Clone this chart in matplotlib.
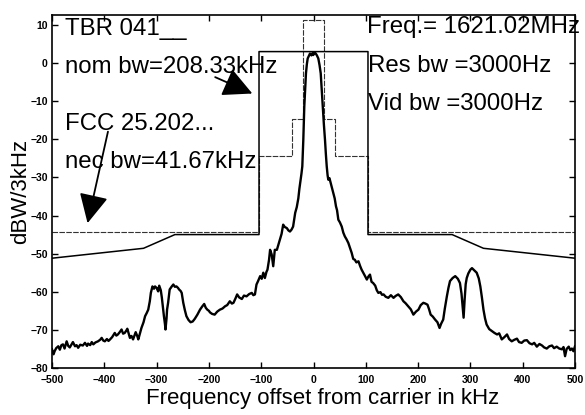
import matplotlib
matplotlib.use("Agg")
import matplotlib.pyplot as plt

plt.rcParams['font.family'] = ['Liberation Sans', 'DejaVu Sans']

# ---- data ----
freq_khz = [-500,-497,-495,-492,-488,-485,-482,-479,-476,-472,-469,-466,-463,-460,-456,-453,-450,-446,-441,-437,-433,-431,-427,-424,-421,-417,-412,-408,-405,-402,-399,-395,-392,-389,-385,-380,-377,-374,-370,-367,-364,-361,-358,-356,-353,-351,-348,-345,-342,-340,-337,-335,-332,-329,-325,-322,-319,-316,-313,-311,-308,-305,-303,-300,-297,-295,-292,-290,-288,-286,-284,-283,-281,-280,-278,-275,-271,-268,-265,-262,-259,-257,-254,-252,-249,-246,-243,-239,-235,-231,-227,-222,-217,-213,-209,-206,-203,-200,-198,-194,-189,-184,-179,-174,-169,-165,-160,-156,-153,-149,-146,-142,-137,-133,-128,-123,-118,-115,-112,-109,-106,-102,-99,-96,-93,-90,-88,-85,-83,-80,-77,-74,-70,-67,-64,-61,-58,-55,-51,-48,-45,-42,-39,-35,-32,-29,-27,-24.5,-23,-21.4,-20.5,-19.5,-18.5,-17.6,-16,-14.4,-12.7,-11.1,-9,-6.7,-4,-2,-0.4,2,4.2,6.5,9.2,11.5,13.8,15.7,17.6,19.8,22,23.7,25.3,27,28.3,30.5,33,35.5,38,40.5,43,45,47.5,50.5,54,57,60,63,66.6,70,73,76,79,82,86,89,92,95,98.6,102,105,108,111,114,118,121,124,128,131,134,138,143,148,153,157,162,167,172,176,181,186,191,196,200.6,205,210,214,218,221,224,228,232.5,237,241,244,248,251,255,258,261,266,271,276,280,283,285,287,289,291,293,296,300,303,306,309,312,316,319,322,325,328,331,336,341,346,351,355,360,365,370,374,379,384,389,393,398,403,408,413,418,422,427,432,437,441,446,451,456,460,465,470,475,478,481,484,488,491,494,497,500]
level_dbw = [-75.1,-76.4,-75.6,-74.8,-74.3,-75.2,-74.0,-73.8,-74.9,-73.0,-74.2,-74.6,-73.9,-73.2,-74.3,-74.0,-74.7,-73.9,-74.1,-73.4,-74.2,-73.6,-74.0,-73.2,-73.8,-73.3,-73.0,-72.6,-72.1,-72.8,-73.0,-72.4,-72.9,-72.5,-71.9,-70.8,-71.5,-71.2,-70.5,-69.9,-71.0,-70.8,-70.2,-69.7,-71.2,-72.1,-71.6,-72.5,-71.4,-70.6,-71.6,-72.5,-71.0,-69.5,-68.0,-66.4,-65.6,-64.7,-62.5,-60.3,-58.6,-59.2,-58.6,-59.0,-59.9,-58.4,-59.6,-61.5,-64.0,-66.4,-68.5,-69.9,-67.0,-64.7,-62.9,-59.4,-58.6,-58.1,-58.7,-58.6,-59.0,-59.4,-59.8,-60.3,-62.9,-64.8,-66.4,-67.4,-68.0,-67.8,-67.1,-66.0,-64.7,-63.9,-63.2,-64.2,-64.7,-65.0,-65.4,-65.8,-66.0,-65.2,-64.7,-64.4,-63.8,-63.5,-62.5,-63.1,-62.9,-61.7,-60.7,-61.5,-61.9,-61.0,-61.2,-60.6,-60.3,-60.9,-60.7,-58.1,-57.2,-55.9,-56.6,-55.0,-56.4,-54.8,-54.2,-51.6,-49.0,-50.2,-53.3,-49.0,-49.0,-47.6,-46.3,-44.8,-42.4,-43.0,-43.3,-43.9,-44.2,-43.7,-42.9,-39.3,-37.8,-35.5,-33.0,-30.6,-29.0,-27.1,-24.0,-20.2,-15.5,-11.4,-7.0,-2.7,-0.3,1.2,1.8,2.5,2.0,2.6,2.1,2.8,2.5,2.0,1.2,-0.5,-2.7,-7.0,-11.4,-16.0,-20.2,-24.0,-27.1,-29.5,-30.6,-30.2,-31.5,-32.8,-34.1,-35.5,-37.6,-38.6,-41.1,-41.8,-42.9,-44.5,-45.5,-46.2,-47.2,-48.6,-49.8,-51.4,-51.6,-52.3,-52.0,-53.2,-54.2,-55.0,-55.9,-56.8,-56.0,-55.5,-57.4,-57.7,-58.4,-59.6,-60.3,-60.1,-60.8,-60.7,-61.3,-61.6,-60.9,-61.6,-61.1,-60.7,-61.4,-62.5,-63.0,-63.8,-64.6,-66.0,-65.2,-64.7,-63.5,-62.9,-63.1,-63.4,-64.6,-66.0,-66.5,-67.3,-68.0,-69.5,-68.4,-67.3,-64.5,-61.2,-59.0,-57.2,-56.4,-55.9,-56.6,-57.7,-60.5,-63.5,-66.8,-62.0,-58.0,-56.4,-55.2,-54.2,-53.8,-54.2,-54.6,-55.0,-56.5,-58.6,-61.5,-64.7,-67.0,-68.6,-69.8,-70.3,-70.8,-71.2,-70.9,-72.5,-71.9,-71.2,-72.4,-73.0,-72.6,-72.3,-73.2,-73.4,-72.8,-72.7,-73.5,-73.8,-73.4,-74.4,-73.7,-74.1,-74.6,-74.9,-74.3,-74.1,-74.8,-74.4,-74.9,-75.1,-74.5,-76.9,-75.0,-74.4,-75.3,-74.9,-75.6,-74.3]

# nominal-bandwidth (outer) mask
nom_mask_f = [-500, -325, -265, -104.17, -104.17, 104.17, 104.17, 265, 325, 500]
nom_mask_db = [-51.2, -48.6, -45.0, -45.0, 3.0, 3.0, -45.0, -45.0, -48.6, -51.2]

# FCC 25.202 (necessary-bandwidth) mask
fcc_mask_f = [-500, -104.17, -104.17, -41.67, -41.67, -20.83, -20.83, 20.83, 20.83, 41.67, 41.67, 104.17, 104.17, 500]
fcc_mask_db = [-44.4, -44.4, -24.5, -24.5, -14.7, -14.7, 11.3, 11.3, -14.7, -14.7, -24.5, -24.5, -44.4, -44.4]

x_ticks = [-500, -400, -300, -200, -100, 0, 100, 200, 300, 400, 500]
y_ticks = [-80, -70, -60, -50, -40, -30, -20, -10, 0, 10]

# ---- figure ----
fig = plt.figure(figsize=(5.85, 4.15), dpi=100)
ax = fig.add_axes([52/585, 1-368/415, 523/585, 353/415])

ax.plot(fcc_mask_f, fcc_mask_db, color='#333333', lw=0.8, ls=(0, (5, 1.2)))
ax.plot(nom_mask_f, nom_mask_db, color='black', lw=1.1)
ax.plot(freq_khz, level_dbw, color='black', lw=1.7)

ax.set_xlim(-500, 500)
ax.set_ylim(-80, 12.6)
ax.set_xticks(x_ticks)
ax.set_yticks(y_ticks)
ax.tick_params(direction='in', top=True, right=True, length=4, width=1,
               labelsize=7.5)
ax.tick_params(axis='x', pad=5)
ax.tick_params(axis='y', pad=3)
for lab in ax.get_xticklabels() + ax.get_yticklabels():
    lab.set_fontweight('bold')
for sp in ax.spines.values():
    sp.set_linewidth(1.2)

ax.set_xlabel('Frequency offset from carrier in kHz', fontsize=16)
ax.set_ylabel('dBW/3kHz', fontsize=16)
ax.xaxis.set_label_coords(0.518, -0.058)
ax.yaxis.set_label_coords(-0.04, 0.5)

tkw = dict(fontsize=17.3, va='baseline', ha='left', color='black')
ax.text(-476, 7.3, 'TBR 041__', **tkw)
ax.text(-476, -2.5, 'nom bw=208.33kHz', **tkw)
ax.text(-476, -17.5, 'FCC 25.202...', **tkw)
ax.text(-476, -27.5, 'nec bw=41.67kHz', **tkw)
ax.text(102, 7.9, 'Freq.= 1621.02MHz', **tkw)
ax.text(104, -2.4, 'Res bw =3000Hz', **tkw)
ax.text(104, -12.3, 'Vid bw =3000Hz', **tkw)

akw = dict(arrowstyle='-|>,head_length=0.9,head_width=0.45', lw=1.3, color='black',
           shrinkA=0, shrinkB=0, mutation_scale=20)
ax.annotate('', xy=(-117, -8.0), xytext=(-188, -3.7), arrowprops=akw)
ax.annotate('', xy=(-432, -42.0), xytext=(-393, -18.0), arrowprops=akw)

fig.savefig('out.png', dpi=100)
